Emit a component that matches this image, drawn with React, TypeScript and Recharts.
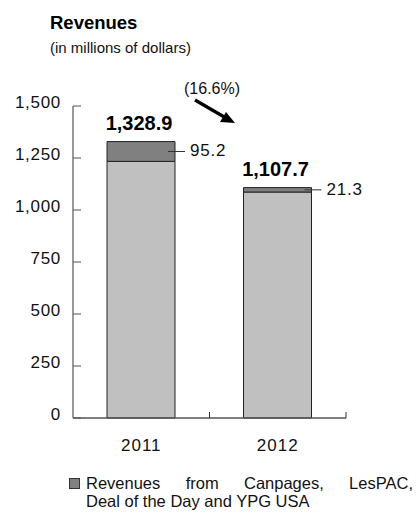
import React from "react";
import {
  BarChart,
  Bar,
  XAxis,
  YAxis,
  LabelList,
  Legend,
  Customized,
} from "recharts";

const years = ["2011", "2012"];
const totals = [1328.9, 1107.7];
const otherRevenues = [95.2, 21.3];
const yTicks = [0, 250, 500, 750, 1000, 1250, 1500];
const changeLabel = "(16.6%)";
const legendLines = ["Revenues from Canpages, LesPAC,", "Deal of the Day and YPG USA"];

const data = years.map((year, i) => ({
  year,
  total: totals[i],
  other: otherRevenues[i],
  core: +(totals[i] - otherRevenues[i]).toFixed(1),
}));

const FONT = "'Liberation Sans', Arial, sans-serif";
const fmt = (v: number) =>
  v.toLocaleString("en-US", { minimumFractionDigits: 1, maximumFractionDigits: 1 });

const YTick = (props: any) => {
  const { x, y, payload } = props;
  return (
    <g>
      <line x1={x} x2={x + 8} y1={y} y2={y} stroke="#555" strokeWidth={1} />
      <text x={x - 12} y={y + 2} textAnchor="end" fontSize={17} letterSpacing={0.7} fill="#111" fontFamily={FONT}>
        {payload.value.toLocaleString("en-US")}
      </text>
    </g>
  );
};

// category label at the band centre, small upward tick at the band's right edge
const XTick = (props: any) => {
  const { x, y, payload } = props;
  const edge = x + (payload.offset || 0);
  return (
    <g>
      <line x1={edge} x2={edge} y1={y} y2={y - 6} stroke="#333" strokeWidth={1} />
      <text x={x} y={y + 33} textAnchor="middle" fontSize={17} letterSpacing={1} fill="#111" fontFamily={FONT}>
        {payload.value}
      </text>
    </g>
  );
};

const TotalLabel = (props: any) => {
  const { x, y, width, index } = props;
  const v = totals[index ?? 0];
  return (
    <text
      x={x + width / 2 - 2}
      y={y - 12}
      textAnchor="middle"
      fontSize={20}
      fontWeight="bold"
      fill="#000"
      fontFamily={FONT}
    >
      {v != null ? fmt(v) : ""}
    </text>
  );
};

const OtherLabel = (props: any) => {
  const { x, y, width, height, value } = props;
  const my = y + height / 2;
  const right = x + width;
  return (
    <g>
      <line x1={right - 7} x2={right + 10} y1={my} y2={my} stroke="#333" strokeWidth={1} />
      <text x={right + 15} y={my + 5} fontSize={17} letterSpacing={0.8} fill="#111" fontFamily={FONT}>
        {fmt(Number(value))}
      </text>
    </g>
  );
};

const Annotation = () => (
  <g>
    <text x={184} y={94} fontSize={16} fill="#111" fontFamily={FONT}>
      {changeLabel}
    </text>
    <line x1={195} y1={100} x2={226} y2={118} stroke="#000" strokeWidth={3.2} />
    <polygon points="235,123 220,122 226,112" fill="#000" />
  </g>
);

const LegendContent = (props: any) => {
  const entry = (props.payload || []).find((p: any) => p.dataKey === "other");
  return (
    <div style={{ display: "flex", alignItems: "flex-start", fontFamily: FONT }}>
      <div
        style={{
          width: 9,
          height: 9,
          background: entry ? entry.color : "#808080",
          border: "1px solid #333",
          marginTop: 4,
          marginRight: 6,
          flexShrink: 0,
        }}
      />
      <div style={{ width: 327, fontSize: 16.5, lineHeight: "18px", color: "#111" }}>
        <div style={{ textAlign: "justify", textAlignLast: "justify" }}>{legendLines[0]}</div>
        <div>{legendLines[1]}</div>
      </div>
    </div>
  );
};

export default function App() {
  return (
    <div style={{ position: "absolute", left: 0, top: 0, width: 416, height: 513, background: "#fff" }}>
      <div style={{ position: "absolute", left: 50, top: 12, fontFamily: FONT, fontWeight: "bold", fontSize: 18.5, color: "#000" }}>
        Revenues
      </div>
      <div style={{ position: "absolute", left: 50, top: 39, fontFamily: FONT, fontSize: 15, color: "#111" }}>
        (in millions of dollars)
      </div>
      <BarChart
        width={416}
        height={513}
        data={data}
        margin={{ top: 106, right: 70, left: 13, bottom: 65 }}
        barSize={68}
      >
        <XAxis
          dataKey="year"
          axisLine={{ stroke: "#555", strokeWidth: 1.5 }}
          tickLine={false}
          tick={<XTick />}
          tickSize={0}
          tickMargin={0}
          height={30}
          interval={0}
        />
        <YAxis
          domain={[0, 1500]}
          ticks={yTicks}
          interval={0}
          axisLine={{ stroke: "#777", strokeWidth: 1.5 }}
          tickLine={false}
          tickSize={0}
          tickMargin={0}
          tick={<YTick />}
          width={60}
        />
        <Bar dataKey="core" stackId="a" fill="#c0c0c0" stroke="#222" strokeWidth={1} isAnimationActive={false} legendType="none" />
        <Bar dataKey="other" stackId="a" fill="#808080" stroke="#222" strokeWidth={1} isAnimationActive={false}>
          <LabelList dataKey="other" content={<OtherLabel />} />
          <LabelList dataKey="total" content={<TotalLabel />} />
        </Bar>
        <Legend
          layout="horizontal"
          verticalAlign="middle"
          align="center"
          content={<LegendContent />}
          wrapperStyle={{ left: 69, top: 474, width: 345, height: 40 }}
        />
        <Customized component={<Annotation />} />
      </BarChart>
    </div>
  );
}
